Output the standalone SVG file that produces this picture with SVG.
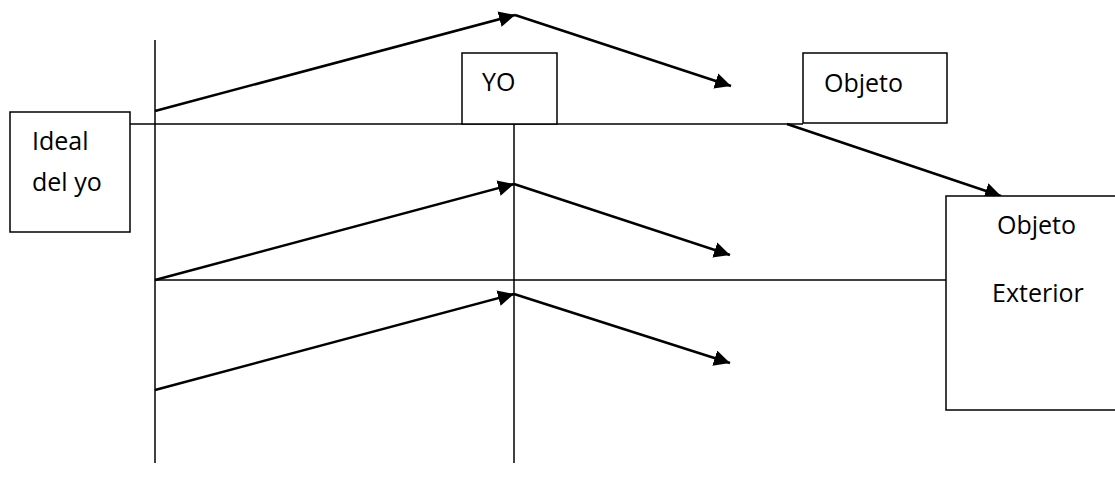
<svg xmlns="http://www.w3.org/2000/svg" width="1115" height="491" viewBox="0 0 1115 491">
<style>
.box{fill:#fff;stroke:#000;stroke-width:1.5}
.ln{stroke:#000;stroke-width:1.5;fill:none}
.ar{stroke:#000;stroke-width:2.5;fill:none}
.t{font-family:"Open Sans","Liberation Sans",sans-serif;font-size:25px;fill:#000}
</style>
<defs>
<marker id="ah" viewBox="0 0 10 10" refX="10" refY="5" markerWidth="6.4" markerHeight="6.4" markerUnits="strokeWidth" orient="auto">
<path d="M0,0 L10,5 L0,10 Z" fill="#000"/>
</marker>
</defs>
<rect width="1115" height="491" fill="#fff"/>
<g id="connectors">
<line class="ln" x1="155" y1="40" x2="155" y2="463"/>
<line class="ln" x1="514" y1="124" x2="514" y2="463"/>
<line class="ln" x1="130" y1="124" x2="803" y2="124"/>
<line class="ln" x1="155" y1="280" x2="946" y2="280"/>
<line class="ar" x1="155" y1="111" x2="515" y2="15" marker-end="url(#ah)"/>
<line class="ar" x1="515" y1="15" x2="731" y2="86" marker-end="url(#ah)"/>
<line class="ar" x1="787" y1="124" x2="1001" y2="196" marker-end="url(#ah)"/>
<line class="ar" x1="155" y1="280" x2="514" y2="184" marker-end="url(#ah)"/>
<line class="ar" x1="514" y1="184" x2="730" y2="255" marker-end="url(#ah)"/>
<line class="ar" x1="155" y1="390" x2="514" y2="294" marker-end="url(#ah)"/>
<line class="ar" x1="514" y1="294" x2="730" y2="363" marker-end="url(#ah)"/>
</g>
<g id="ideal">
<rect class="box" x="10" y="112" width="120" height="120"/>
<text class="t" x="32" y="150">Ideal</text>
<text class="t" x="32" y="191">del yo</text>
</g>
<g id="yo">
<rect class="box" x="462" y="53" width="95" height="71"/>
<text class="t" x="482" y="91">YO</text>
</g>
<g id="objeto">
<rect class="box" x="803" y="53" width="144" height="70"/>
<text class="t" x="824" y="92">Objeto</text>
</g>
<g id="objeto-exterior">
<rect class="box" x="946" y="196" width="180" height="214"/>
<text class="t" x="997" y="234">Objeto</text>
<text class="t" x="992" y="302">Exterior</text>
</g>
</svg>
